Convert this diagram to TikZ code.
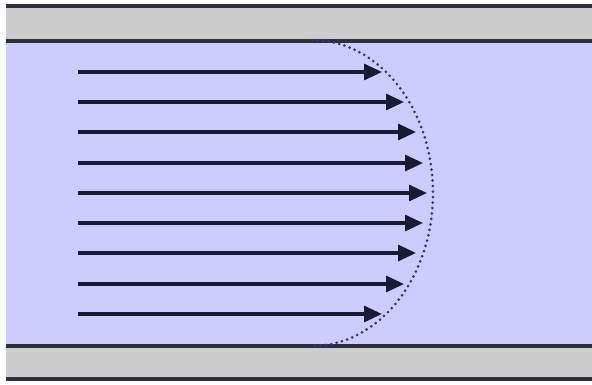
\documentclass[tikz,border=0pt]{standalone}
\usetikzlibrary{arrows.meta}
\definecolor{fluid}{HTML}{CCCCFF}
\definecolor{wallgray}{HTML}{CDCDCD}
\definecolor{walledge}{HTML}{2E2E3A}
\definecolor{vecline}{HTML}{1A1A33}
\definecolor{profile}{HTML}{33338A}
\tikzset{
  wall/.style={line width=3.2pt, draw=walledge},
  velocity/.style={line width=3.2pt, draw=vecline,
    -{Triangle[length=18pt,width=16pt,fill=vecline]}},
  profileline/.style={line width=3pt, draw=profile, line cap=round,
    dash pattern=on 0pt off 5.5pt}
}
\begin{document}
\begin{tikzpicture}[x=1pt,y=-1pt]
  \useasboundingbox (0,0) rectangle (592,385);
  % pipe walls and fluid
  \fill[wallgray] (6,6) rectangle (592,41);
  \fill[wallgray] (6,346) rectangle (592,379);
  \fill[fluid] (6,41) rectangle (592,346);
  \draw[wall] (6,6) -- (592,6);
  \draw[wall] (6,41) -- (592,41);
  \draw[wall] (6,346) -- (592,346);
  \draw[wall] (6,379) -- (592,379);
  % velocity vectors
  \foreach \i/\y/\x in {1/72/382, 2/102/404, 3/132/416, 4/163/423, 5/193/427,
                        6/223/423, 7/253/416, 8/284/404, 9/314/382} {
    \coordinate (s\i) at (78,\y);
    \coordinate (e\i) at (\x,\y);
    \draw[velocity] (s\i) -- (e\i);
  }
  % velocity profile envelope
  \coordinate (ptop) at (312,40);
  \draw[profileline] (ptop) arc[start angle=-90, end angle=90, x radius=121, y radius=153];
\end{tikzpicture}
\end{document}
